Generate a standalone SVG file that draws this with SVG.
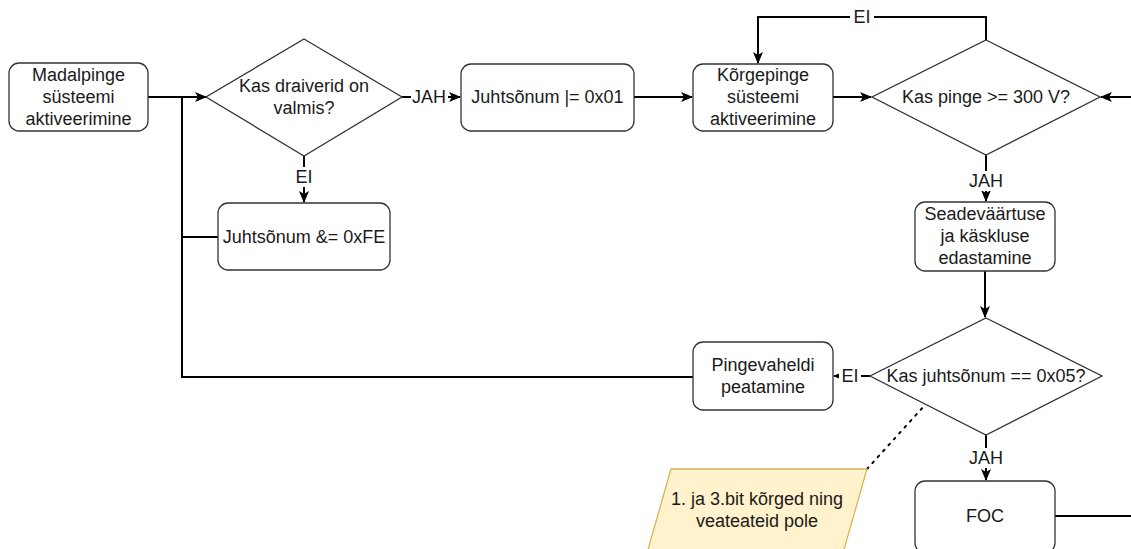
<svg xmlns="http://www.w3.org/2000/svg" width="1131" height="549" viewBox="0 0 1131 549">
  <style>
    .box { fill: #ffffff; stroke: #333333; stroke-width: 1.3; }
    .dia { fill: #ffffff; stroke: #333333; stroke-width: 1.3; }
    .note { fill: #fff2cc; stroke: #d6b656; stroke-width: 1.3; }
    .t { font-family: "Liberation Sans", Arial, sans-serif; font-size: 18px; fill: #1a1a1a; text-anchor: middle; dominant-baseline: central; }
    .lbl { font-family: "Liberation Sans", Arial, sans-serif; font-size: 18px; fill: #1a1a1a; text-anchor: middle; dominant-baseline: central; }
    .edge { fill: none; stroke: #000000; stroke-width: 2; }
    .arrow { fill: none; stroke: #000000; stroke-width: 2; marker-end: url(#head); }
    .dots { fill: none; stroke: #000000; stroke-width: 2; stroke-dasharray: 2 6; stroke-linecap: round; }
    .lblbg { fill: #ffffff; }
  </style>
  <defs>
    <marker id="head" viewBox="0 0 12 10" refX="11" refY="5" markerWidth="12" markerHeight="10" markerUnits="userSpaceOnUse" orient="auto">
      <path d="M0,0 L12,5 L0,10 L3,5 Z" fill="#000000"/>
    </marker>
  </defs>
  <rect width="1131" height="549" fill="#ffffff"/>

  <!-- connectors -->
  <g id="connectors">
    <!-- low voltage start into driver check -->
    <path class="arrow" d="M148,97 L206,97"/>
    <!-- return trunk on the left -->
    <path class="edge" d="M693,377 L182,377 L182,97"/>
    <path class="edge" d="M218,237 L182,237"/>
    <!-- drivers ready: yes -->
    <path class="arrow" d="M402,97 L460,97"/>
    <!-- drivers ready: no -->
    <path class="arrow" d="M304,156 L304,202"/>
    <!-- control word set -> HV activation -->
    <path class="arrow" d="M634,97 L692,97"/>
    <path class="arrow" d="M833,97 L871,97"/>
    <!-- voltage check: no, loop back -->
    <path class="arrow" d="M986,40 L986,17 L758,17 L758,63"/>
    <!-- incoming from the right -->
    <path class="arrow" d="M1131,97 L1101,97"/>
    <!-- voltage check: yes -->
    <path class="arrow" d="M986,155 L986,201"/>
    <path class="arrow" d="M985,271 L985,317"/>
    <!-- control word check: no -->
    <path class="arrow" d="M870,376 L834,376"/>
    <!-- control word check: yes -->
    <path class="arrow" d="M986,435 L986,480"/>
    <!-- FOC onwards -->
    <path class="edge" d="M1055,516 L1131,516"/>
    <!-- annotation link -->
    <path class="dots" d="M867,469 L925,405"/>

    <!-- edge labels -->
    <rect class="lblbg" x="411" y="87" width="37" height="20"/>
    <text class="lbl" x="429" y="97">JAH</text>
    <rect class="lblbg" x="292" y="167" width="24" height="20"/>
    <text class="lbl" x="304" y="177">EI</text>
    <rect class="lblbg" x="850" y="7" width="24" height="20"/>
    <text class="lbl" x="862" y="17">EI</text>
    <rect class="lblbg" x="967" y="171" width="38" height="20"/>
    <text class="lbl" x="986" y="181">JAH</text>
    <rect class="lblbg" x="839" y="366" width="22" height="20"/>
    <text class="lbl" x="850" y="376">EI</text>
    <rect class="lblbg" x="967" y="448" width="38" height="20"/>
    <text class="lbl" x="986" y="458">JAH</text>
  </g>

  <g id="n-madalpinge">
    <rect class="box" x="9" y="63" width="139" height="68" rx="10"/>
    <text class="t" x="78.5" y="75">Madalpinge</text>
    <text class="t" x="78.5" y="97">süsteemi</text>
    <text class="t" x="78.5" y="119">aktiveerimine</text>
  </g>

  <g id="n-draiverid">
    <polygon class="dia" points="304,39 402,97 304,156 206,97"/>
    <text class="t" x="304" y="86">Kas draiverid on</text>
    <text class="t" x="304" y="108">valmis?</text>
  </g>

  <g id="n-and">
    <rect class="box" x="218" y="203" width="172" height="67" rx="10"/>
    <text class="t" x="304" y="237">Juhtsõnum &amp;= 0xFE</text>
  </g>

  <g id="n-or">
    <rect class="box" x="461" y="64" width="173" height="67" rx="10"/>
    <text class="t" x="547.5" y="97">Juhtsõnum |= 0x01</text>
  </g>

  <g id="n-korgepinge">
    <rect class="box" x="693" y="64" width="140" height="67" rx="10"/>
    <text class="t" x="763" y="75">Kõrgepinge</text>
    <text class="t" x="763" y="97">süsteemi</text>
    <text class="t" x="763" y="119">aktiveerimine</text>
  </g>

  <g id="n-pinge">
    <polygon class="dia" points="986,40 1100,97 986,155 872,97"/>
    <text class="t" x="986" y="97">Kas pinge &gt;= 300 V?</text>
  </g>

  <g id="n-seade">
    <rect class="box" x="915" y="202" width="140" height="69" rx="10"/>
    <text class="t" x="985" y="214">Seadeväärtuse</text>
    <text class="t" x="985" y="236">ja käskluse</text>
    <text class="t" x="985" y="258">edastamine</text>
  </g>

  <g id="n-juhtsonum">
    <polygon class="dia" points="986,318 1102,376 986,435 870,376"/>
    <text class="t" x="986" y="376">Kas juhtsõnum == 0x05?</text>
  </g>

  <g id="n-pingevaheldi">
    <rect class="box" x="693" y="342" width="140" height="68" rx="10"/>
    <text class="t" x="763" y="365">Pingevaheldi</text>
    <text class="t" x="763" y="387">peatamine</text>
  </g>

  <g id="n-foc">
    <rect class="box" x="915" y="481" width="140" height="72" rx="10"/>
    <text class="t" x="985" y="516">FOC</text>
  </g>

  <g id="n-note">
    <polygon class="note" points="671,469 867,469 843,553 647,553"/>
    <text class="t" x="757" y="499">1. ja 3.bit kõrged ning</text>
    <text class="t" x="757" y="521">veateateid pole</text>
  </g>
</svg>
